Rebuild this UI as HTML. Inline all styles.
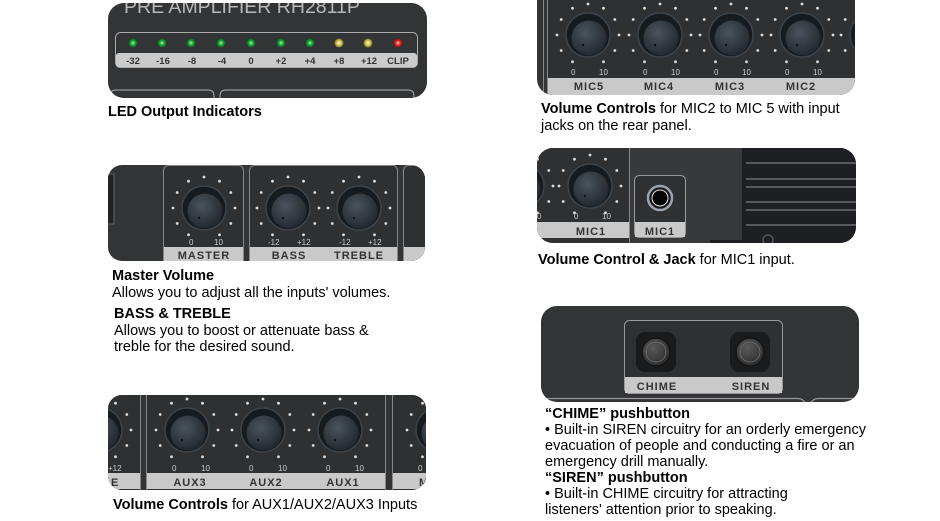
<!DOCTYPE html>
<html><head><meta charset="utf-8"><style>
html,body{margin:0;padding:0;background:#fff;}
svg{display:block;}
text{font-family:"Liberation Sans",Arial,sans-serif;}
.c{font-size:14.5px;fill:#000;}
.b{font-weight:bold;}
.lb{font-size:11px;font-weight:bold;fill:#333;letter-spacing:1px;}
.sc{font-size:8px;fill:#ccc;}
</style></head><body>
<svg width="940" height="521" viewBox="0 0 940 521" xmlns="http://www.w3.org/2000/svg">
<defs>
<radialGradient id="kg" cx="0.4" cy="0.35" r="0.7">
<stop offset="0" stop-color="#4a545d"/><stop offset="1" stop-color="#20262b"/></radialGradient>
<radialGradient id="bg" cx="0.4" cy="0.35" r="0.7">
<stop offset="0" stop-color="#5a5a5a"/><stop offset="1" stop-color="#2a2a2a"/></radialGradient>
<radialGradient id="gl" cx="0.5" cy="0.5" r="0.5"><stop offset="0" stop-color="#aef0b0"/><stop offset="0.5" stop-color="#1fa83a"/><stop offset="1" stop-color="#0d5a1e"/></radialGradient>
<radialGradient id="yl" cx="0.5" cy="0.5" r="0.5"><stop offset="0" stop-color="#fffbd0"/><stop offset="0.5" stop-color="#d8cc60"/><stop offset="1" stop-color="#7a7020"/></radialGradient>
<radialGradient id="rl" cx="0.5" cy="0.5" r="0.5"><stop offset="0" stop-color="#ffd0d0"/><stop offset="0.5" stop-color="#e82828"/><stop offset="1" stop-color="#801010"/></radialGradient>
<g id="k">
<g fill="#ddd">
<circle cx="0" cy="-31" r="1.4"/><circle cx="15.5" cy="-26.8" r="1.4"/><circle cx="26.8" cy="-15.5" r="1.4"/><circle cx="31" cy="0" r="1.4"/><circle cx="26.8" cy="15.5" r="1.4"/><circle cx="15.5" cy="26.8" r="1.4"/>
<circle cx="-15.5" cy="-26.8" r="1.4"/><circle cx="-26.8" cy="-15.5" r="1.4"/><circle cx="-31" cy="0" r="1.4"/><circle cx="-26.8" cy="15.5" r="1.4"/><circle cx="-15.5" cy="26.8" r="1.4"/>
</g>
<circle r="22" fill="#161b20" stroke="#3b444c" stroke-width="1.5"/>
<circle cx="1" cy="3" r="17.5" fill="url(#kg)"/>
<circle cx="-5" cy="10" r="1.2" fill="#111"/>
</g>
<clipPath id="p1"><rect x="108" y="3" width="319" height="95" rx="16"/></clipPath>
<clipPath id="p2"><rect x="108" y="165" width="317" height="96" rx="14"/></clipPath>
<clipPath id="p3"><rect x="108" y="395" width="318" height="95" rx="14"/></clipPath>
<clipPath id="p4"><rect x="537" y="-20" width="318" height="115" rx="16"/></clipPath>
<clipPath id="p5"><rect x="537" y="148" width="319" height="95" rx="16"/></clipPath>
<clipPath id="p6"><rect x="541" y="306" width="318" height="96" rx="16"/></clipPath>
</defs>

<!-- Panel 1 LED -->
<g clip-path="url(#p1)">
<rect x="100" y="0" width="340" height="100" fill="#333436"/>
<text x="124" y="13" font-size="19.5" fill="#b8b8b8">PRE AMPLIFIER  RH2811P</text>
<rect x="115.5" y="32.5" width="302" height="35" rx="5" fill="none" stroke="#aaa" stroke-width="1"/>
<rect x="116" y="53" width="301" height="14" rx="3" fill="#cbcbcb"/>
<circle cx="133" cy="43" r="4.5" fill="url(#gl)"/><circle cx="162" cy="43" r="4.5" fill="url(#gl)"/><circle cx="191" cy="43" r="4.5" fill="url(#gl)"/><circle cx="221" cy="43" r="4.5" fill="url(#gl)"/><circle cx="251" cy="43" r="4.5" fill="url(#gl)"/><circle cx="281" cy="43" r="4.5" fill="url(#gl)"/><circle cx="310" cy="43" r="4.5" fill="url(#gl)"/><circle cx="339" cy="43" r="4.5" fill="url(#yl)"/><circle cx="368" cy="43" r="4.5" fill="url(#yl)"/><circle cx="398" cy="43" r="4.5" fill="url(#rl)"/>
<g font-size="9.5" font-weight="bold" fill="#333" text-anchor="middle">
<text x="133" y="64">-32</text><text x="163" y="64">-16</text><text x="192" y="64">-8</text><text x="222" y="64">-4</text><text x="251" y="64">0</text><text x="281" y="64">+2</text><text x="310" y="64">+4</text><text x="339" y="64">+8</text><text x="369" y="64">+12</text><text x="398" y="64">CLIP</text>
</g>
<path d="M110 100 V96 Q110 90 116 90 H208 Q214 90 214 96 V100" fill="none" stroke="#999" stroke-width="1.2"/>
<path d="M220 100 V96 Q220 90 226 90 H408 Q414 90 414 96 V100" fill="none" stroke="#999" stroke-width="1.2"/>
</g>
<text x="108" y="116" class="c b">LED Output Indicators</text>

<!-- Panel 2 Master -->
<g clip-path="url(#p2)">
<rect x="100" y="160" width="330" height="105" fill="#333436"/>
<rect x="104" y="174" width="10" height="50" fill="#222" stroke="#666"/>
<rect x="163.5" y="165.5" width="80" height="100" rx="5" fill="#2f3032" stroke="#888"/>
<rect x="249.5" y="165.5" width="148" height="100" rx="5" fill="#2f3032" stroke="#888"/>
<rect x="403.5" y="165.5" width="40" height="100" rx="5" fill="#2f3032" stroke="#888"/>
<rect x="164" y="247" width="79" height="15" fill="#c9c9c9"/>
<rect x="250" y="247" width="147" height="15" fill="#c9c9c9"/>
<rect x="404" y="247" width="40" height="15" fill="#c9c9c9"/>
<use href="#k" x="204" y="208"/><use href="#k" x="288" y="208"/><use href="#k" x="359" y="208"/>
<text x="189" y="245" class="sc">0</text><text x="214" y="245" class="sc">10</text>
<text x="268" y="245" class="sc">-12</text><text x="297" y="245" class="sc">+12</text>
<text x="339" y="245" class="sc">-12</text><text x="368" y="245" class="sc">+12</text>
<text x="204" y="259" class="lb" text-anchor="middle">MASTER</text>
<text x="289" y="259" class="lb" text-anchor="middle">BASS</text>
<text x="359" y="259" class="lb" text-anchor="middle">TREBLE</text>
</g>
<text x="112" y="280" class="c b">Master Volume</text>
<text x="112" y="297" class="c">Allows you to adjust all the inputs' volumes.</text>
<text x="114" y="318" class="c b">BASS &amp; TREBLE</text>
<text x="114" y="335" class="c">Allows you to boost or attenuate bass &amp;</text>
<text x="114" y="351" class="c">treble for the desired sound.</text>

<!-- Panel 3 AUX -->
<g clip-path="url(#p3)">
<rect x="100" y="390" width="330" height="105" fill="#333436"/>
<rect x="60.5" y="385.5" width="80" height="110" rx="5" fill="#2f3032" stroke="#888"/>
<rect x="146.5" y="385.5" width="239" height="110" rx="5" fill="#2f3032" stroke="#888"/>
<rect x="392.5" y="385.5" width="60" height="110" rx="5" fill="#2f3032" stroke="#888"/>
<rect x="60" y="473" width="80" height="16" fill="#c9c9c9"/>
<rect x="147" y="473" width="238" height="16" fill="#c9c9c9"/>
<rect x="393" y="473" width="60" height="16" fill="#c9c9c9"/>
<use href="#k" x="100" y="430"/><use href="#k" x="187" y="430"/><use href="#k" x="263" y="430"/><use href="#k" x="340" y="430"/><use href="#k" x="438" y="430"/>
<text x="108" y="471" class="sc">+12</text>
<text x="172" y="471" class="sc">0</text><text x="201" y="471" class="sc">10</text>
<text x="249" y="471" class="sc">0</text><text x="278" y="471" class="sc">10</text>
<text x="326" y="471" class="sc">0</text><text x="355" y="471" class="sc">10</text>
<text x="418" y="471" class="sc">0</text>
<text x="107" y="486" class="lb">.E</text>
<text x="190" y="486" class="lb" text-anchor="middle">AUX3</text>
<text x="266" y="486" class="lb" text-anchor="middle">AUX2</text>
<text x="343" y="486" class="lb" text-anchor="middle">AUX1</text>
<text x="419" y="486" class="lb">M</text>
</g>
<text x="113" y="509" class="c"><tspan class="b">Volume Controls</tspan> for AUX1/AUX2/AUX3 Inputs</text>

<!-- Panel 4 MIC2-5 -->
<g clip-path="url(#p4)">
<rect x="530" y="0" width="330" height="100" fill="#333436"/>
<rect x="547.5" y="-10.5" width="340" height="110" rx="5" fill="#2f3032" stroke="#888"/>
<line x1="543.5" y1="0" x2="543.5" y2="100" stroke="#888"/>
<rect x="548" y="78" width="320" height="18" fill="#c9c9c9"/>
<use href="#k" x="588" y="35"/><use href="#k" x="660" y="35"/><use href="#k" x="731" y="35"/><use href="#k" x="802" y="35"/><use href="#k" x="872" y="35"/>
<text x="571" y="75" class="sc">0</text><text x="599" y="75" class="sc">10</text>
<text x="643" y="75" class="sc">0</text><text x="671" y="75" class="sc">10</text>
<text x="714" y="75" class="sc">0</text><text x="742" y="75" class="sc">10</text>
<text x="785" y="75" class="sc">0</text><text x="813" y="75" class="sc">10</text>
<text x="589" y="90" class="lb" text-anchor="middle">MIC5</text>
<text x="659" y="90" class="lb" text-anchor="middle">MIC4</text>
<text x="730" y="90" class="lb" text-anchor="middle">MIC3</text>
<text x="801" y="90" class="lb" text-anchor="middle">MIC2</text>
</g>
<text x="541" y="113" class="c"><tspan class="b">Volume Controls</tspan> for MIC2 to MIC 5 with input</text>
<text x="541" y="130" class="c">jacks on the rear panel.</text>

<!-- Panel 5 MIC1 -->
<g clip-path="url(#p5)">
<rect x="530" y="140" width="330" height="110" fill="#38393b"/>
<rect x="500.5" y="140.5" width="129" height="120" rx="5" fill="#2f3032" stroke="#888"/>
<rect x="500" y="222" width="129" height="16" fill="#c9c9c9"/>
<rect x="742" y="140" width="120" height="110" fill="#1e1f22"/>
<rect x="710" y="240" width="40" height="10" fill="#1e1f22"/>
<g stroke="#58585a" stroke-width="2">
<line x1="746" y1="163" x2="860" y2="163"/><line x1="746" y1="179" x2="860" y2="179"/><line x1="746" y1="187" x2="860" y2="187"/><line x1="746" y1="202" x2="860" y2="202"/><line x1="746" y1="210" x2="860" y2="210"/><line x1="746" y1="225" x2="860" y2="225"/>
</g>
<circle cx="768" cy="240" r="5" fill="none" stroke="#555" stroke-width="1.5"/>
<use href="#k" x="522" y="186"/>
<use href="#k" x="590" y="186"/>
<text x="537" y="219" class="sc">0</text>
<text x="574" y="219" class="sc">0</text><text x="602" y="219" class="sc">10</text>
<text x="591" y="235" class="lb" text-anchor="middle">MIC1</text>
<rect x="634.5" y="175.5" width="51" height="62" rx="5" fill="#2f3032" stroke="#999"/>
<rect x="635" y="222" width="50" height="15" fill="#c9c9c9"/>
<circle cx="660" cy="198" r="12" fill="#1a1a1a" stroke="#9aa4b0" stroke-width="2.5"/>
<circle cx="660" cy="198" r="8" fill="#050505" stroke="#ddd" stroke-width="1"/>
<text x="660" y="235" class="lb" text-anchor="middle">MIC1</text>
</g>
<text x="538" y="264" class="c"><tspan class="b">Volume Control &amp; Jack</tspan> for MIC1 input.</text>

<!-- Panel 6 CHIME / SIREN -->
<g clip-path="url(#p6)">
<rect x="535" y="300" width="330" height="110" fill="#333436"/>
<rect x="624.5" y="320.5" width="158" height="73" rx="5" fill="#2f3032" stroke="#999"/>
<rect x="625" y="377" width="157" height="16" fill="#c9c9c9"/>
<rect x="636" y="332" width="40" height="40" rx="9" fill="#1a1b1d"/>
<circle cx="656" cy="352" r="14" fill="url(#bg)" stroke="#151515" stroke-width="1.5"/>
<circle cx="656" cy="352" r="10" fill="none" stroke="#666" stroke-width="1"/>
<rect x="730" y="332" width="40" height="40" rx="9" fill="#1a1b1d"/>
<circle cx="750" cy="352" r="14" fill="url(#bg)" stroke="#151515" stroke-width="1.5"/>
<circle cx="750" cy="352" r="10" fill="none" stroke="#666" stroke-width="1"/>
<text x="657" y="390" class="lb" text-anchor="middle">CHIME</text>
<text x="751" y="390" class="lb" text-anchor="middle">SIREN</text>
<path d="M541 398.5 H798 Q803 398.5 806 404 M810 404 Q813 398.5 818 398.5 H860" fill="none" stroke="#999" stroke-width="1.2"/>
</g>
<text x="545" y="418" class="c b">“CHIME” pushbutton</text>
<text x="545" y="434" class="c">• Built-in SIREN circuitry for an orderly emergency</text>
<text x="545" y="450" class="c">evacuation of people and conducting a fire or an</text>
<text x="545" y="466" class="c">emergency drill manually.</text>
<text x="545" y="482" class="c b">“SIREN” pushbutton</text>
<text x="545" y="498" class="c">• Built-in CHIME circuitry for attracting</text>
<text x="545" y="514" class="c">listeners' attention prior to speaking.</text>
</svg>
</body></html>
